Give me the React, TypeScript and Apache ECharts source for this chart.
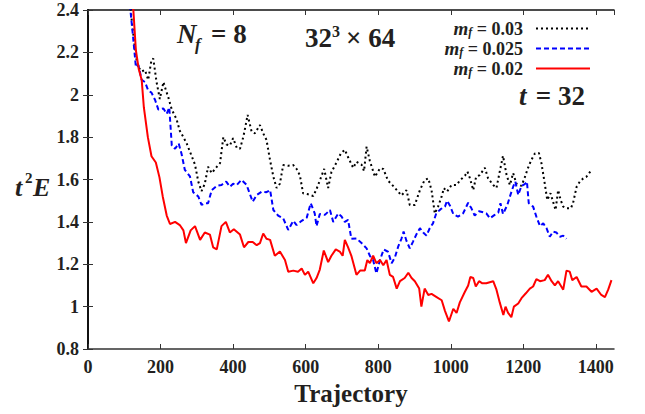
import React, { useEffect, useRef } from "react";
import * as echarts from "echarts";

const FONT = "Liberation Serif";

const seriesNames = ["0.03", "0.025", "0.02"];
const seriesColors = ["#000000", "#0000ff", "#ff0000"];

const blackX = [112,120,128,135,139,148,157,166,175,180,189,198,208,215,221,231,244,253,263,272,286,295,304,313,322,331,341,355,364,373,382,391,400,410,419,428,434,440,451,460,474,483,492,502,511,520,529,538,552,566,575,584,593,607,621,630,639,651,662,671,685,697,708,717,731,740,754,761,768,777,791,805,814,827,841,855,864,878,887,901,915,928,938,947,956,965,975,981,990,1002,1016,1025,1039,1046,1053,1062,1070,1080,1094,1103,1117,1126,1135,1144,1154,1163,1172,1181,1195,1204,1213,1222,1232,1243,1250,1259,1266,1275,1289,1296,1303,1310,1319,1331,1337,1347,1356,1365,1374,1388];
const blackY = [2.5,2.36,2.24,2.15,2.13,2.11,2.117,2.07,2.165,2.17,2.06,1.98,2.06,2.02,1.99,1.93,1.885,1.83,1.8,1.77,1.71,1.67,1.59,1.545,1.58,1.66,1.63,1.66,1.677,1.8,1.765,1.76,1.795,1.75,1.745,1.8,1.85,1.905,1.826,1.818,1.857,1.818,1.787,1.69,1.613,1.56,1.58,1.668,1.665,1.668,1.65,1.62,1.535,1.53,1.522,1.555,1.595,1.65,1.56,1.635,1.68,1.723,1.74,1.705,1.655,1.684,1.67,1.64,1.755,1.687,1.613,1.653,1.65,1.595,1.57,1.543,1.525,1.55,1.48,1.48,1.55,1.598,1.605,1.55,1.44,1.472,1.52,1.559,1.543,1.574,1.574,1.595,1.618,1.637,1.605,1.55,1.613,1.621,1.655,1.605,1.574,1.56,1.637,1.712,1.62,1.574,1.63,1.58,1.57,1.61,1.655,1.692,1.723,1.725,1.677,1.582,1.503,1.535,1.456,1.55,1.503,1.472,1.464,1.464,1.488,1.566,1.59,1.605,1.613,1.645];

const blueX = [112,118,125,132,139,148,157,166,175,185,194,208,217,224,231,240,250,258,267,281,290,304,313,322,331,341,355,368,381,391,400,410,423,437,454,465,479,492,502,511,524,538,552,566,575,589,603,614,625,630,639,653,667,676,690,699,708,717,726,740,754,768,777,786,795,805,815,827,837,846,855,864,870,878,887,896,905,915,924,933,942,951,960,972,984,990,998,1007,1020,1034,1048,1057,1066,1078,1089,1098,1108,1121,1131,1137,1144,1156,1165,1172,1178,1186,1195,1204,1210,1215,1227,1236,1246,1255,1264,1273,1282,1291,1301,1310,1319];
const blueY = [2.5,2.38,2.26,2.13,2.14,2.07,2.06,2.02,2.01,1.975,1.93,1.935,1.91,1.94,1.76,1.745,1.77,1.72,1.645,1.615,1.54,1.52,1.48,1.488,1.488,1.55,1.57,1.574,1.59,1.566,1.58,1.574,1.598,1.575,1.495,1.527,1.543,1.54,1.55,1.456,1.43,1.417,1.362,1.405,1.385,1.405,1.42,1.488,1.44,1.38,1.437,1.433,1.456,1.4,1.44,1.425,1.4,1.409,1.32,1.322,1.3,1.275,1.24,1.22,1.157,1.22,1.27,1.259,1.205,1.232,1.283,1.32,1.354,1.31,1.275,1.307,1.34,1.37,1.35,1.335,1.37,1.393,1.44,1.46,1.472,1.5,1.476,1.437,1.425,1.44,1.49,1.464,1.43,1.45,1.445,1.44,1.417,1.433,1.444,1.488,1.437,1.48,1.53,1.566,1.59,1.527,1.57,1.578,1.59,1.488,1.472,1.425,1.38,1.393,1.37,1.33,1.354,1.35,1.33,1.335,1.32];

const redX = [115,125,132,140,148,154,165,175,187,197,206,217,226,240,253,263,270,283,295,309,322,336,345,355,368,380,391,402,419,430,442,454,465,474,483,492,502,515,529,543,552,566,579,589,598,607,621,630,639,650,662,671,683,694,702,708,717,726,740,750,763,770,777,786,795,805,814,823,832,841,851,860,873,883,892,901,913,919,928,938,947,961,975,984,995,1007,1016,1025,1039,1048,1054,1062,1069,1078,1087,1098,1117,1126,1135,1145,1151,1158,1167,1174,1186,1195,1207,1218,1227,1236,1246,1259,1268,1278,1287,1296,1310,1319,1328,1335,1347,1360,1374,1388,1402,1415,1425,1434,1443];
const redY = [2.55,2.4,2.21,2.12,2.07,1.94,1.8,1.71,1.68,1.61,1.52,1.43,1.39,1.4,1.385,1.36,1.3,1.36,1.38,1.315,1.35,1.34,1.28,1.27,1.38,1.4,1.35,1.365,1.34,1.28,1.305,1.305,1.29,1.3,1.345,1.32,1.315,1.24,1.26,1.22,1.165,1.17,1.165,1.18,1.15,1.165,1.11,1.135,1.175,1.265,1.21,1.24,1.27,1.26,1.24,1.315,1.28,1.24,1.15,1.17,1.17,1.22,1.205,1.24,1.205,1.22,1.195,1.22,1.15,1.14,1.085,1.12,1.135,1.16,1.135,1.12,1.085,1.0,1.085,1.055,1.06,1.045,1.03,0.98,0.93,0.99,0.97,1.02,1.07,1.1,1.14,1.135,1.095,1.12,1.11,1.11,1.12,1.08,1.02,0.96,1.0,0.97,0.95,1.0,1.015,1.04,1.063,1.085,1.095,1.13,1.12,1.125,1.15,1.12,1.1,1.12,1.08,1.17,1.165,1.125,1.14,1.095,1.095,1.07,1.085,1.055,1.045,1.08,1.125];

const seriesX = [blackX, blueX, redX];
const seriesY = [blackY, blueY, redY];
const lineTypes: any[] = [[2, 3], [5, 3], "solid"];

const X_MIN = 0, X_MAX = 1450, X_INT = 200;
const Y_MIN = 0.8, Y_MAX = 2.4, Y_INT = 0.2;

const TEXT = "#231f20";

export default function App() {
  const ref = useRef<HTMLDivElement>(null);
  useEffect(() => {
    if (!ref.current) return;
    const chart = echarts.init(ref.current, null, { renderer: "svg" });
    const tickStyle = { show: true, inside: true, length: 5, lineStyle: { color: "#333", width: 1 } };
    const labelStyle = { fontFamily: FONT, fontWeight: "bold" as const, fontSize: 18, color: TEXT };
    const txt = (text: string, x: number, y: number, size: number, italic: boolean, align = "left") => ({
      type: "text",
      x,
      y,
      style: {
        text,
        fill: TEXT,
        fontFamily: FONT,
        fontSize: size,
        fontWeight: "bold",
        fontStyle: italic ? "italic" : "normal",
        align,
        verticalAlign: "middle",
        textAlign: align,
        textVerticalAlign: "middle",
      },
    });
    chart.setOption({
      animation: false,
      grid: { left: 88, right: 31, top: 10, bottom: 65 },
      xAxis: [
        {
          type: "value",
          min: X_MIN,
          max: X_MAX,
          interval: X_INT,
          name: "Trajectory",
          nameLocation: "middle",
          nameGap: 29,
          nameTextStyle: { fontFamily: FONT, fontWeight: "bold", fontSize: 25, color: TEXT },
          axisLine: { show: true, lineStyle: { color: "#333", width: 1.5 } },
          axisTick: tickStyle,
          axisLabel: { ...labelStyle, margin: 9, showMaxLabel: false, formatter: (v: number) => String(v) },
          splitLine: { show: false },
        },
        {
          type: "value",
          position: "top",
          min: X_MIN,
          max: X_MAX,
          interval: X_INT,
          axisLine: { show: true, lineStyle: { color: "#111", width: 1.5 } },
          axisTick: tickStyle,
          axisLabel: { show: false },
          splitLine: { show: false },
        },
      ],
      yAxis: [
        {
          type: "value",
          min: Y_MIN,
          max: Y_MAX,
          interval: Y_INT,
          axisLine: { show: true, lineStyle: { color: "#808080", width: 2 } },
          axisTick: tickStyle,
          axisLabel: { ...labelStyle, margin: 9, formatter: (v: number) => String(Math.round(v * 10) / 10) },
          splitLine: { show: false },
        },
        {
          type: "value",
          position: "right",
          min: Y_MIN,
          max: Y_MAX,
          interval: Y_INT,
          axisLine: { show: true, lineStyle: { color: "#111", width: 2 } },
          axisTick: tickStyle,
          axisLabel: { show: false },
          splitLine: { show: false },
        },
      ],
      legend: {
        orient: "vertical",
        right: 49,
        top: 14,
        align: "right",
        itemWidth: 54,
        itemHeight: 14,
        itemGap: 1,
        data: seriesNames,
        itemStyle: { opacity: 0 },
        formatter: (name: string) => `{m|m}{f|f}{n| = ${name}}`,
        textStyle: {
          fontFamily: FONT,
          fontWeight: "bold",
          fontSize: 18,
          color: TEXT,
          rich: {
            m: { fontFamily: FONT, fontWeight: "bold", fontStyle: "italic", fontSize: 19, color: TEXT },
            f: { fontFamily: FONT, fontWeight: "bold", fontStyle: "italic", fontSize: 12, color: TEXT, verticalAlign: "bottom", padding: [7, 0, 0, 0] },
            n: { fontFamily: FONT, fontWeight: "bold", fontSize: 18, color: TEXT, padding: [0, 8, 0, 0] },
          },
        },
      },
      graphic: [
        txt("t", 15, 187, 26, true),
        txt("2", 25, 178, 15, false),
        txt("E", 33, 187, 26, true),
        txt("N", 177, 34, 27, true),
        txt("f", 195, 44, 17, true),
        txt("= 8", 211, 34, 27, false),
        txt("32", 305, 37.5, 27, false),
        txt("3", 332, 31, 16, false),
        txt("× 64", 346, 37.5, 27, false),
        txt("t", 519, 96, 27, true),
        txt("= 32", 585, 96, 27, false, "right"),
      ],
      series: seriesNames.map((name, i) => ({
        name,
        type: "line",
        xAxisIndex: 0,
        yAxisIndex: 0,
        showSymbol: false,
        symbol: "none",
        clip: true,
        z: 2 + i,
        data: seriesX[i].map((x, k) => [x, seriesY[i][k]]),
        lineStyle: { color: seriesColors[i], width: 2, type: lineTypes[i] },
        itemStyle: { color: seriesColors[i] },
      })),
    });
    return () => chart.dispose();
  }, []);
  return <div ref={ref} style={{ width: 645, height: 414, position: "absolute", left: 0, top: 0 }} />;
}
